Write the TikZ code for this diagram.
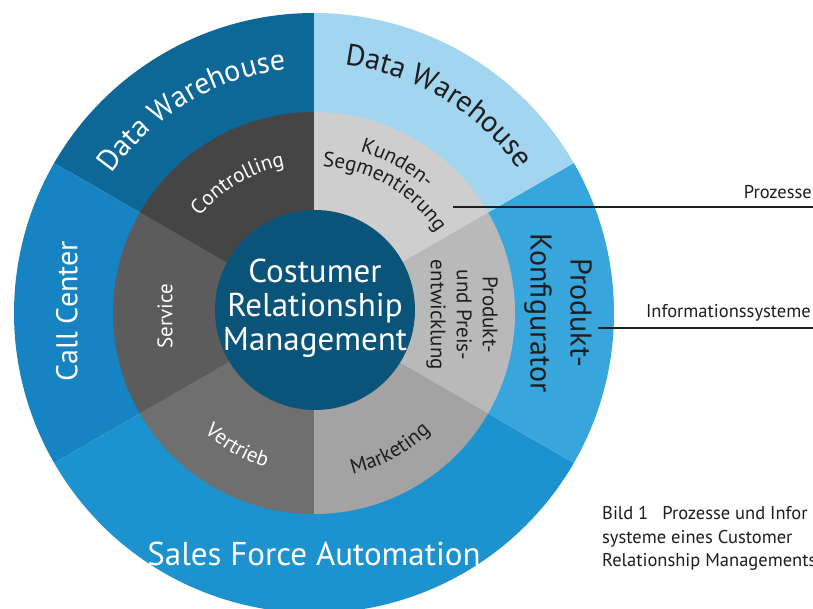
\documentclass[tikz,border=0pt]{standalone}
\usepackage{fontspec}
\setmainfont{PT Sans}
\usetikzlibrary{decorations.text}
\definecolor{dwdark}{HTML}{0E6897}
\definecolor{dwlight}{HTML}{A2D5EF}
\definecolor{callc}{HTML}{1683C2}
\definecolor{salesf}{HTML}{1C92CF}
\definecolor{konfig}{HTML}{38A6DC}
\definecolor{crmcore}{HTML}{0B5479}
\definecolor{gcontrol}{HTML}{454545}
\definecolor{gservice}{HTML}{5C5C5C}
\definecolor{gvertrieb}{HTML}{6F6F6F}
\definecolor{gmarket}{HTML}{A3A3A3}
\definecolor{gprodukt}{HTML}{B9B9B9}
\definecolor{gkunden}{HTML}{CECECE}
\definecolor{ink}{HTML}{1E1E1E}
\newcommand\mysector[4]{\fill[#1] (0,0) -- (#2:#4) arc[start angle=#2, end angle=#3, radius=#4] -- cycle;}
\newcommand\bigfont{\fontsize{30}{36}\selectfont}
\newcommand\midfont{\fontsize{21}{26}\selectfont}
\newcommand\smallfont{\fontsize{18.5}{23}\selectfont}
\tikzset{
  outerlabel/.style={inner sep=0pt, font=\bigfont, align=center},
  innerlabel/.style={inner sep=0pt, font=\midfont, align=center},
  sidelabel/.style={inner sep=0pt, font=\smallfont, text=ink},
  leader/.style={draw=ink, line width=1.1pt}
}
\begin{document}
\begin{tikzpicture}[x=1pt,y=1pt]
\useasboundingbox (-314,-295) rectangle (499,313);
\clip (-314,-295) rectangle (499,313);
\fill[white] (-314,-295) rectangle (499,313);
% outer ring
\mysector{dwdark}{90}{150}{300pt}
\mysector{callc}{150}{210}{300pt}
\mysector{salesf}{210}{330}{300pt}
\mysector{konfig}{-30}{30}{300pt}
\mysector{dwlight}{30}{90}{300pt}
% grey ring
\mysector{gcontrol}{90}{150}{201pt}
\mysector{gservice}{150}{210}{201pt}
\mysector{gvertrieb}{210}{270}{201pt}
\mysector{gmarket}{270}{330}{201pt}
\mysector{gprodukt}{-30}{30}{201pt}
\mysector{gkunden}{30}{90}{201pt}
% core
\fill[crmcore] (1,3) circle[radius=100pt];
\node[inner sep=0pt, align=center, text=white, font=\fontsize{33}{34}\selectfont] (crm) at (1,5) {Costumer\\Relationship\\Management};
% outer curved labels
\path[decorate, decoration={text along path, text align=center,
  text={|\bigfont\color{white}|Data Warehouse}}]
  (166:245pt) arc[start angle=166, end angle=76, radius=245pt];
\path[decorate, decoration={text along path, text align=center,
  text={|\bigfont\color{ink}|Data Warehouse}}]
  (104:250pt) arc[start angle=104, end angle=14, radius=250pt];
\node[outerlabel, rotate=90, text=white] (callcenter) at (-247,2) {Call Center};
\node[outerlabel, rotate=-90, text=ink, font=\fontsize{30}{40}\selectfont] (konfigurator) at (244,0) {Produkt-\\Konfigurator};
\node[outerlabel, anchor=base, text=white, font=\fontsize{33}{36}\selectfont] (sfa) at (0,-252) {Sales Force Automation};
% inner curved labels
\path[decorate, decoration={text along path, text align=center,
  text={|\midfont\color{white}|Controlling}}]
  (170:150pt) arc[start angle=170, end angle=71, radius=150pt];
\path[decorate, decoration={text along path, text align=center,
  text={|\midfont\color{ink}|Kunden-}}]
  (110:168pt) arc[start angle=110, end angle=12, radius=168pt];
\path[decorate, decoration={text along path, text align=center,
  text={|\midfont\color{ink}|Segmentierung}}]
  (115:147pt) arc[start angle=115, end angle=5, radius=147pt];
\path[decorate, decoration={text along path, text align=center,
  text={|\midfont\color{ink}|Marketing}}]
  (-110:166pt) arc[start angle=-110, end angle=-12, radius=166pt];
\path[decorate, decoration={text along path, text align=center,
  text={|\midfont\color{white}|Vertrieb}}]
  (-170:162pt) arc[start angle=-170, end angle=-70, radius=162pt];
\node[innerlabel, rotate=90, text=white] (service) at (-149,-3) {Service};
\node[innerlabel, rotate=-90, text=ink] (produkt) at (148,-2) {Produkt-\\und Preis-\\entwicklung};
% leaders and side labels
\coordinate (pzA) at (139,106);
\coordinate (pzB) at (499,106);
\coordinate (isA) at (284,-15);
\coordinate (isB) at (499,-15);
\draw[leader] (pzA) -- (pzB);
\draw[leader] (isA) -- (isB);
\node[sidelabel, anchor=base east] (prozesse) at (498,115) {Prozesse};
\node[sidelabel, anchor=base east] (infosys) at (497,-4) {Informationssysteme};
\node[sidelabel, anchor=base west] (cap1) at (288,-206) {Bild 1\hspace{14pt}Prozesse und Infor};
\node[sidelabel, anchor=base west] (cap2) at (288,-230) {systeme eines Customer};
\node[sidelabel, anchor=base west] (cap3) at (288,-253) {Relationship Managements};
\end{tikzpicture}
\end{document}
